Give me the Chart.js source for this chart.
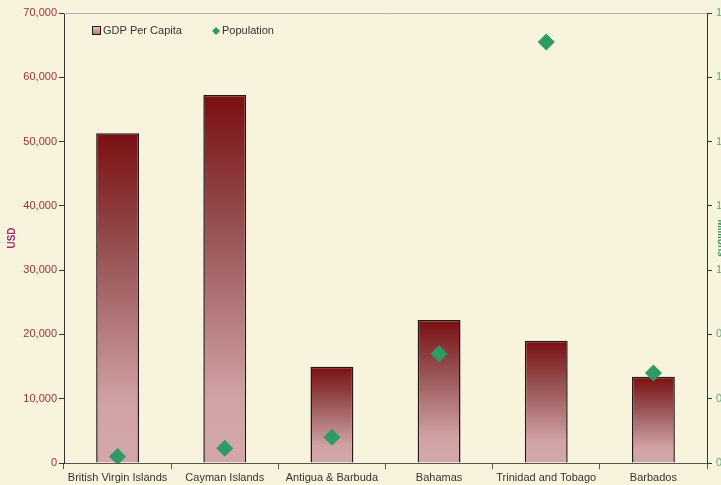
<!DOCTYPE html>
<html>
<head>
<meta charset="utf-8">
<script src="https://cdn.jsdelivr.net/npm/chart.js@4"></script>
<style>
  html, body { margin: 0; padding: 0; background: #f8f3dc; }
  #wrap { width: 721px; height: 485px; overflow: hidden; position: relative; }
  canvas { display: block; }
</style>
</head>
<body>
<div id="wrap"><canvas id="gdpChart" width="727" height="485"></canvas></div>
<script>
const countries = ['British Virgin Islands', 'Cayman Islands', 'Antigua & Barbuda', 'Bahamas', 'Trinidad and Tobago', 'Barbados'];
const gdpPerCapita = [51300, 57250, 14970, 22250, 19000, 13400];
const populationMillions = [0.02, 0.046, 0.08, 0.34, 1.31, 0.28];
const usdTicks = [0, 10000, 20000, 30000, 40000, 50000, 60000, 70000];
const millionTicks = [0, 0.2, 0.4, 0.6, 0.8, 1.0, 1.2, 1.4];

const FONT = '"Liberation Sans", Arial, sans-serif';

// gradient for each bar, from its top down to the axis
function barGradient(context) {
    const chart = context.chart;
    const y = chart.scales.y;
    if (!chart.chartArea || !y) return '#b98486';
    const top = y.getPixelForValue(context.raw);
    const bottom = y.getPixelForValue(0);
    const g = chart.ctx.createLinearGradient(0, top, 0, bottom);
    g.addColorStop(0, '#7a0f12');
    g.addColorStop(0.35, '#964f51');
    g.addColorStop(0.82, '#d0a2a4');
    g.addColorStop(1, '#d3a7a9');
    return g;
}

// legend drawn inside the plot area + grey top border
const insidePlot = {
    id: 'insidePlot',
    afterDraw(chart) {
        const ctx = chart.ctx;
        const area = chart.chartArea;
        ctx.save();
        ctx.strokeStyle = '#b4b1a6';
        ctx.lineWidth = 1;
        ctx.beginPath();
        ctx.moveTo(area.left, area.top + 0.5);
        ctx.lineTo(area.right, area.top + 0.5);
        ctx.stroke();

        const barSet = chart.data.datasets.find(d => d.type !== 'line');
        const pointSet = chart.data.datasets.find(d => d.type === 'line');
        ctx.font = '11px ' + FONT;
        ctx.textBaseline = 'middle';
        const y = 31;
        // bar item
        const g = ctx.createLinearGradient(0, y - 4, 0, y + 4);
        g.addColorStop(0, '#e2c3c4');
        g.addColorStop(1, '#a86c6e');
        ctx.fillStyle = g;
        ctx.fillRect(92.5, y - 4.5, 8, 8);
        ctx.strokeStyle = '#2a1a1a';
        ctx.strokeRect(92.5, y - 4.5, 8, 8);
        ctx.fillStyle = '#333333';
        ctx.fillText(barSet.label, 103, y);
        // point item
        ctx.fillStyle = '#2e9b64';
        ctx.beginPath();
        ctx.moveTo(216, y - 4);
        ctx.lineTo(220, y);
        ctx.lineTo(216, y + 4);
        ctx.lineTo(212, y);
        ctx.closePath();
        ctx.fill();
        ctx.fillStyle = '#333333';
        ctx.fillText(pointSet.label, 222, y);
        ctx.restore();
    }
};

const ctx = document.getElementById('gdpChart').getContext('2d');
new Chart(ctx, {
    type: 'bar',
    data: {
        labels: countries,
        datasets: [{
            type: 'line',
            label: 'Population',
            data: populationMillions,
            yAxisID: 'y1',
            showLine: false,
            pointStyle: 'rectRot',
            pointRadius: 8.5,
            pointHoverRadius: 8.5,
            pointBackgroundColor: '#2e9b64',
            pointBorderWidth: 0,
            borderColor: '#2e9b64',
            order: 0
        }, {
            label: 'GDP Per Capita',
            data: gdpPerCapita,
            yAxisID: 'y',
            backgroundColor: barGradient,
            borderColor: '#24181a',
            borderWidth: 1.5,
            barPercentage: 0.4,
            categoryPercentage: 1,
            order: 1
        }]
    },
    options: {
        responsive: false,
        animation: false,
        events: [],
        layout: { padding: { top: 13, left: 0, right: 0, bottom: 0 } },
        plugins: {
            legend: { display: false },
            tooltip: { enabled: false }
        },
        scales: {
            x: {
                offset: true,
                grid: { display: true, offset: true, drawOnChartArea: false, drawTicks: true, tickLength: 6, color: '#555555' },
                border: { display: true, color: '#555555', width: 1 },
                ticks: { color: '#333333', font: { family: FONT, size: 11 }, padding: 2, maxRotation: 0, autoSkip: false },
                afterFit(scale) { scale.height = 22; }
            },
            y: {
                position: 'left',
                min: 0,
                max: 70000,
                afterBuildTicks(scale) { scale.ticks = usdTicks.map(v => ({ value: v })); },
                grid: { display: true, drawOnChartArea: false, drawTicks: true, tickLength: 5, color: '#333333' },
                border: { display: true, color: '#333333', width: 1 },
                ticks: {
                    color: '#9b3333',
                    font: { family: FONT, size: 11 },
                    padding: 2,
                    callback: v => v.toLocaleString('en-US')
                },
                title: {
                    display: true,
                    text: 'USD',
                    color: '#a3306a',
                    font: { family: FONT, size: 10, weight: 'bold' },
                    padding: { top: 6, bottom: 0 }
                },
                afterFit(scale) { scale.width = 64; }
            },
            y1: {
                position: 'right',
                min: 0,
                max: 1.4,
                afterBuildTicks(scale) { scale.ticks = millionTicks.map(v => ({ value: v })); },
                grid: { display: true, drawOnChartArea: false, drawTicks: true, tickLength: 5, color: '#333333' },
                border: { display: true, color: '#333333', width: 1 },
                ticks: {
                    color: '#4fb07c',
                    font: { family: FONT, size: 11 },
                    padding: 4,
                    callback: v => Math.round(v).toString()
                },
                title: {
                    display: true,
                    text: 'Millions',
                    color: '#2e9b64',
                    font: { family: FONT, size: 10, weight: 'bold' },
                    padding: { top: 0, bottom: 0 }
                },
                afterFit(scale) { scale.width = 20; }
            }
        }
    },
    plugins: [insidePlot]
});
</script>
</body>
</html>
